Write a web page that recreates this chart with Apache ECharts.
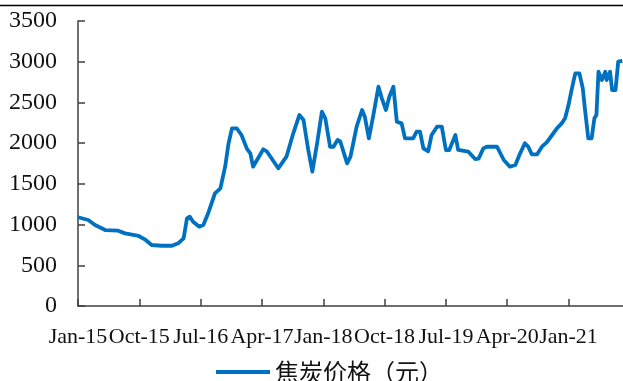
<!DOCTYPE html>
<html>
<head>
<meta charset="utf-8">
<script src="https://cdn.jsdelivr.net/npm/echarts@6/dist/echarts.min.js"></script>
<style>
  html, body { margin: 0; padding: 0; background: #fff; }
  #chart { width: 623px; height: 381px; }
</style>
</head>
<body>
<div id="chart"></div>
<script>
// Coke price series (yuan), sampled at turning points
const dates = [
  "2015-01-01","2015-02-16","2015-03-16","2015-05-01","2015-06-28","2015-07-28","2015-09-28","2015-10-25","2015-11-25",
  "2016-01-10","2016-02-25","2016-03-22","2016-04-16","2016-05-01","2016-05-13","2016-05-28","2016-06-25","2016-07-13",
  "2016-08-04","2016-09-04","2016-09-28","2016-10-19","2016-11-04","2016-11-19","2016-12-10",
  "2017-01-01","2017-01-25","2017-02-10","2017-02-22","2017-04-07","2017-04-22","2017-06-13","2017-07-19","2017-08-19",
  "2017-09-16","2017-10-04","2017-10-25","2017-11-13","2017-12-04","2017-12-25",
  "2018-01-10","2018-02-01","2018-02-16","2018-03-04","2018-03-16","2018-04-16","2018-05-01","2018-05-28","2018-06-22",
  "2018-07-04","2018-07-22","2018-08-13","2018-09-04","2018-09-19","2018-10-07","2018-10-22","2018-11-10","2018-11-25",
  "2018-12-16",
  "2019-01-01","2019-02-07","2019-02-22","2019-03-07","2019-03-22","2019-04-13","2019-04-28","2019-05-22","2019-06-13",
  "2019-07-01","2019-07-16","2019-07-28","2019-08-13","2019-08-25","2019-10-10","2019-11-10","2019-11-25","2019-12-16",
  "2020-01-01","2020-02-16","2020-03-16","2020-04-13","2020-05-07","2020-05-28","2020-06-19","2020-07-04","2020-07-19",
  "2020-08-13","2020-09-04","2020-09-25","2020-10-19","2020-11-10","2020-12-01","2020-12-16",
  "2021-01-01","2021-01-16","2021-02-01","2021-02-19","2021-03-04","2021-03-13","2021-03-28","2021-04-13","2021-04-25",
  "2021-05-04","2021-05-13","2021-05-28","2021-06-13","2021-06-19","2021-07-04","2021-07-13","2021-07-28","2021-08-10",
  "2021-08-28"
];
const cokePrice = [
  1090,1056,995,933,925,892,860,819,749,
  740,740,770,831,1077,1097,1035,974,995,
  1138,1384,1445,1711,1998,2182,2182,
  2100,1930,1875,1711,1924,1900,1691,1834,2121,
  2346,2284,1916,1650,1998,2386,
  2305,1956,1956,2039,2020,1752,1834,2202,2407,
  2325,2059,2366,2693,2550,2407,2570,2693,2263,
  2243,
  2059,2059,2141,2141,1936,1900,2100,2202,2202,
  1916,1916,1998,2100,1916,1895,1805,1810,1936,
  1956,1956,1793,1711,1731,1875,1998,1956,1863,
  1863,1956,2010,2100,2182,2243,2305,
  2468,2673,2857,2857,2673,2428,2059,2059,2305,
  2346,2877,2775,2877,2775,2877,2652,2652,3000,
  3010
];
const seriesName = "焦炭价格（元）";
const monthNames = ["Jan","Feb","Mar","Apr","May","Jun","Jul","Aug","Sep","Oct","Nov","Dec"];
const yTicks = [0, 500, 1000, 1500, 2000, 2500, 3000, 3500];
const monthSpan = 80;        // Jan-15 .. Sep-21
const labelStep = 9;         // one label every nine months

// months elapsed since Jan 2015 (fractional)
function monthIndex(s) {
  const [y, m, d] = s.split("-").map(Number);
  return (y - 2015) * 12 + (m - 1) + (d - 1) / 30;
}
const points = dates.map((d, i) => [monthIndex(d), cokePrice[i]]);

const serif = "'Liberation Serif', 'Times New Roman', serif";
const axisColor = "#404040";

const chart = echarts.init(document.getElementById("chart"));
chart.setOption({
  animation: false,
  backgroundColor: "#fff",
  grid: { left: 78, right: 0, top: 21, bottom: 75, containLabel: false },
  xAxis: {
    type: "value",
    min: 0,
    max: monthSpan,
    interval: labelStep,
    axisLine: { show: true, lineStyle: { color: axisColor, width: 1.5 } },
    axisTick: { show: true, inside: true, length: 7, lineStyle: { color: axisColor, width: 1.5 } },
    splitLine: { show: false },
    axisLabel: {
      showMaxLabel: false,
      color: "#111",
      fontFamily: serif,
      fontSize: 22,
      margin: 20,
      formatter: function (v) {
        if (v % labelStep !== 0) return "";
        return monthNames[v % 12] + "-" + (15 + Math.floor(v / 12));
      }
    }
  },
  yAxis: {
    type: "value",
    min: yTicks[0],
    max: yTicks[yTicks.length - 1],
    interval: 500,
    axisLine: { show: true, lineStyle: { color: axisColor, width: 1.5 } },
    axisTick: { show: true, inside: true, length: 7, lineStyle: { color: axisColor, width: 1.5 } },
    splitLine: { show: false },
    axisLabel: {
      color: "#111",
      fontFamily: serif,
      fontSize: 24,
      margin: 21,
      formatter: function (v) { return String(v); }
    }
  },
  legend: {
    left: 211,
    top: 355,
    icon: "rect",
    itemWidth: 54,
    itemHeight: 4,
    itemGap: 10,
    textStyle: {
      fontFamily: "'Noto Sans CJK SC', sans-serif",
      fontSize: 24,
      color: "#111",
      padding: [0, 0, 0, 0]
    },
    data: [seriesName]
  },
  graphic: [{
    type: "line",
    shape: { x1: 0, y1: 5.5, x2: 623, y2: 5.5 },
    style: { stroke: "#000", lineWidth: 1.5 }
  }],
  series: [{
    name: seriesName,
    type: "line",
    data: points,
    showSymbol: false,
    symbol: "none",
    lineStyle: { color: "#0070C0", width: 3.8, join: "round" },
    itemStyle: { color: "#0070C0" }
  }]
});
</script>
</body>
</html>
